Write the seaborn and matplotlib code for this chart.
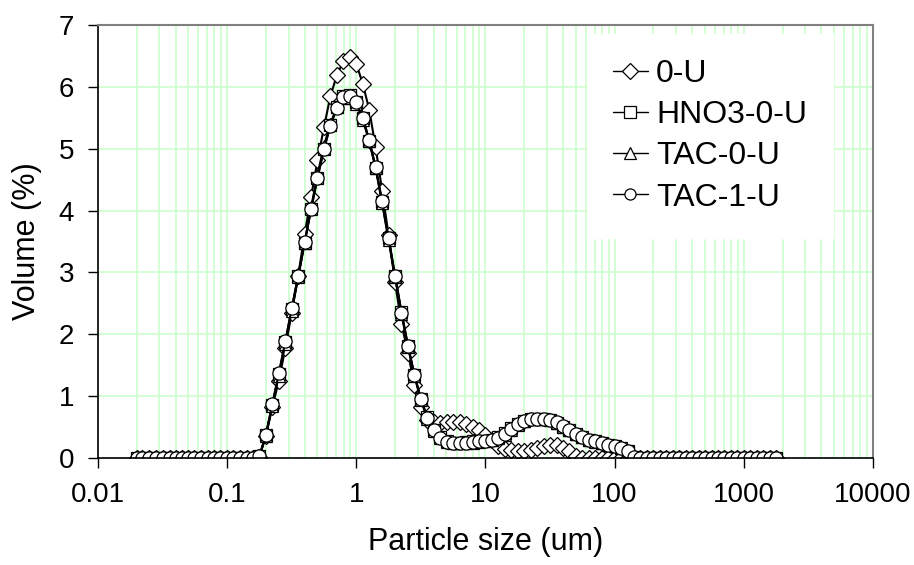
import numpy as np
import pandas as pd
import seaborn as sns
import matplotlib
matplotlib.use("Agg")
import matplotlib.pyplot as plt
from matplotlib.ticker import LogLocator, FixedLocator, FixedFormatter, NullFormatter

# size classes (um)
size_um = [
    0.020, 0.022, 0.025, 0.028, 0.032, 0.036, 0.040, 0.045, 0.050, 0.056,
    0.063, 0.071, 0.080, 0.089, 0.100, 0.112, 0.126, 0.142, 0.159, 0.178,
    0.200, 0.224, 0.252, 0.283, 0.317, 0.356, 0.399, 0.448, 0.502, 0.564,
    0.632, 0.710, 0.796, 0.893, 1.002, 1.125, 1.262, 1.416, 1.589, 1.783,
    2.000, 2.244, 2.518, 2.825, 3.170, 3.557, 3.991, 4.477, 5.024, 5.637,
    6.325, 7.096, 7.962, 8.934, 10.02, 11.25, 12.62, 14.16, 15.89, 17.83,
    20.00, 22.44, 25.18, 28.25, 31.70, 35.57, 39.91, 44.77, 50.24, 56.37,
    63.25, 70.96, 79.62, 89.34, 100.2, 112.5, 126.2, 141.6, 158.9, 178.3,
    200.0, 224.4, 251.8, 282.5, 317.0, 355.7, 399.1, 447.7, 502.4, 563.7,
    632.5, 709.6, 796.2, 893.4, 1002, 1125, 1262, 1416, 1589, 1783,
]

vol_0U = [
    0, 0, 0, 0, 0, 0, 0, 0, 0, 0,
    0, 0, 0, 0, 0, 0, 0, 0, 0, 0.02,
    0.36, 0.82, 1.25, 1.78, 2.35, 2.95, 3.62, 4.22, 4.81, 5.35,
    5.85, 6.19, 6.41, 6.48, 6.37, 6.05, 5.63, 5.02, 4.32, 3.60,
    2.84, 2.17, 1.70, 1.18, 0.83, 0.62, 0.58, 0.57, 0.59, 0.59,
    0.58, 0.55, 0.50, 0.45, 0.38, 0.30, 0.20, 0.15, 0.13, 0.12,
    0.12, 0.14, 0.16, 0.19, 0.21, 0.21, 0.17, 0.12, 0.03, 0,
    0, 0, 0, 0, 0, 0, 0, 0, 0, 0,
    0, 0, 0, 0, 0, 0, 0, 0, 0, 0,
    0, 0, 0, 0, 0, 0, 0, 0, 0, 0,
]

vol_HNO3_0U = [
    0, 0, 0, 0, 0, 0, 0, 0, 0, 0,
    0, 0, 0, 0, 0, 0, 0, 0, 0, 0.03,
    0.37, 0.86, 1.36, 1.88, 2.41, 2.95, 3.48, 4.02, 4.53, 5.00,
    5.38, 5.67, 5.85, 5.87, 5.76, 5.50, 5.13, 4.69, 4.14, 3.55,
    2.95, 2.36, 1.82, 1.35, 0.96, 0.66, 0.46, 0.34, 0.27, 0.25,
    0.25, 0.26, 0.27, 0.28, 0.28, 0.30, 0.34, 0.40, 0.48, 0.55,
    0.60, 0.63, 0.64, 0.63, 0.61, 0.57, 0.51, 0.45, 0.39, 0.34,
    0.30, 0.27, 0.24, 0.22, 0.20, 0.17, 0.12, 0.02, 0, 0,
    0, 0, 0, 0, 0, 0, 0, 0, 0, 0,
    0, 0, 0, 0, 0, 0, 0, 0, 0, 0,
]

vol_TAC_0U = [
    0, 0, 0, 0, 0, 0, 0, 0, 0, 0,
    0, 0, 0, 0, 0, 0, 0, 0, 0, 0.03,
    0.36, 0.84, 1.33, 1.85, 2.38, 2.92, 3.48, 4.05, 4.58, 5.05,
    5.40, 5.68, 5.82, 5.82, 5.72, 5.47, 5.12, 4.68, 4.12, 3.52,
    2.92, 2.33, 1.80, 1.33, 0.94, 0.64, 0.44, 0.32, 0.26, 0.24,
    0.24, 0.24, 0.25, 0.26, 0.27, 0.29, 0.32, 0.38, 0.46, 0.54,
    0.60, 0.63, 0.64, 0.63, 0.61, 0.57, 0.51, 0.45, 0.39, 0.34,
    0.30, 0.26, 0.24, 0.22, 0.19, 0.16, 0.11, 0.02, 0, 0,
    0, 0, 0, 0, 0, 0, 0, 0, 0, 0,
    0, 0, 0, 0, 0, 0, 0, 0, 0, 0,
]

vol_TAC_1U = [
    0, 0, 0, 0, 0, 0, 0, 0, 0, 0,
    0, 0, 0, 0, 0, 0, 0, 0, 0, 0.03,
    0.38, 0.87, 1.37, 1.89, 2.42, 2.95, 3.49, 4.03, 4.53, 5.00,
    5.37, 5.66, 5.83, 5.85, 5.75, 5.50, 5.14, 4.70, 4.15, 3.56,
    2.95, 2.35, 1.81, 1.34, 0.95, 0.65, 0.45, 0.33, 0.26, 0.24,
    0.24, 0.25, 0.26, 0.27, 0.27, 0.29, 0.33, 0.39, 0.47, 0.55,
    0.60, 0.63, 0.64, 0.64, 0.62, 0.58, 0.52, 0.45, 0.39, 0.34,
    0.30, 0.27, 0.24, 0.22, 0.20, 0.17, 0.12, 0.02, 0, 0,
    0, 0, 0, 0, 0, 0, 0, 0, 0, 0,
    0, 0, 0, 0, 0, 0, 0, 0, 0, 0,
]

series = [
    ("0-U", vol_0U, "D", 8),
    ("HNO3-0-U", vol_HNO3_0U, "s", 8.5),
    ("TAC-0-U", vol_TAC_0U, "^", 9),
    ("TAC-1-U", vol_TAC_1U, "o", 9.5),
]

sns.set_style("white")
plt.rcParams["font.family"] = ["Liberation Sans", "DejaVu Sans"]
plt.rcParams["text.color"] = "black"
plt.rcParams["axes.labelcolor"] = "black"
plt.rcParams["xtick.color"] = "black"
plt.rcParams["ytick.color"] = "black"

fig = plt.figure(figsize=(9.14, 5.65), dpi=100)
ax = fig.add_axes([0.107, 0.189, 0.848, 0.767])

for name, vals, mk, ms in series:
    sns.lineplot(x=size_um, y=vals, ax=ax, label=name, color="black",
                 linewidth=1.5, marker=mk, markersize=ms,
                 markerfacecolor="white", markeredgecolor="black",
                 markeredgewidth=0.9, sort=False)

ax.set_xscale("log")
ax.set_xlim(0.01, 10000)
ax.set_ylim(0, 7)

ax.xaxis.set_major_locator(FixedLocator([0.01, 0.1, 1, 10, 100, 1000, 10000]))
ax.xaxis.set_major_formatter(FixedFormatter(["0.01", "0.1", "1", "10", "100", "1000", "10000"]))
ax.xaxis.set_minor_locator(LogLocator(base=10, subs=np.arange(2, 10), numticks=20))
ax.xaxis.set_minor_formatter(NullFormatter())
ax.set_yticks(range(0, 8))

ax.grid(which="both", axis="x", color="#ccffcc", linewidth=1.2)
ax.grid(which="major", axis="y", color="#ccffcc", linewidth=1.2)
ax.set_axisbelow(True)

ax.tick_params(axis="both", which="major", direction="out", length=7,
               width=1, color="black", labelcolor="black", labelsize=20,
               pad=10, bottom=True, left=True)
ax.tick_params(which="minor", length=0)

for side in ["left", "bottom"]:
    ax.spines[side].set_color("black")
    ax.spines[side].set_linewidth(1.2)
for side in ["top", "right"]:
    ax.spines[side].set_color("#808080")
    ax.spines[side].set_linewidth(1.5)

ax.set_xlabel("Particle size (um)", fontsize=22, labelpad=14, color="black")
ax.set_ylabel("Volume (%)", fontsize=22, labelpad=12, color="black")

leg = ax.legend(loc="upper right", bbox_to_anchor=(0.948, 0.98),
                fontsize=23, frameon=True, fancybox=False, framealpha=1,
                edgecolor="white", facecolor="white", handlelength=1.1,
                handletextpad=0.25, labelspacing=0.35, borderpad=0.8,
                borderaxespad=0)
for h in leg.legend_handles:
    h.set_linewidth(1.0)
    h.set_markersize(8)
for t in leg.get_texts():
    t.set_color("black")

fig.savefig("out.png", dpi=100)
